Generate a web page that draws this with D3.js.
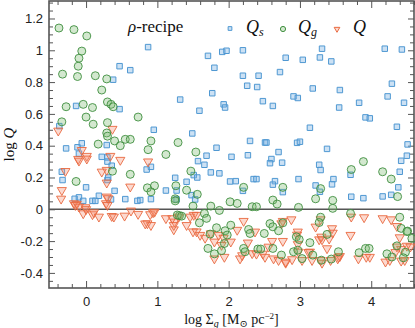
<!DOCTYPE html>
<html>
<head>
<meta charset="utf-8">
<script src="https://cdn.jsdelivr.net/npm/d3@7"></script>
<style>
  body { margin: 0; background: #fff; }
  svg { display: block; }
  .tick text { font-family: "Liberation Sans", Arial, sans-serif; font-size: 13px; fill: #222; }
  .serif { font-family: "Liberation Serif", "DejaVu Serif", serif; fill: #111; }
</style>
</head>
<body>
<svg id="chart"></svg>
<script>
// log Sigma_g vs log Q_s (stars)
const qsData = [
  [0.47,0.90],[0.62,0.875],[0.38,0.815],[-0.14,0.65],[0.47,0.63],
  [0.87,1.02],[1.71,0.965],[1.91,0.99],[1.97,0.997],[2.20,1.0],[1.80,0.89],[2.20,0.84],[2.42,0.84],
  [2.72,0.863],[2.26,0.777],[2.40,0.769],[1.77,0.73],[1.32,0.69],[2.48,0.68],[2.62,0.65],[1.93,0.66],
  [1.95,0.64],[1.59,0.62],[3.31,1.01],[4.19,1.01],[4.43,1.005],[2.80,0.953],[3.04,0.94],[3.28,0.955],
  [3.44,0.93],[4.29,0.79],[3.18,0.76],[3.56,0.75],[2.91,0.71],[2.97,0.70],[4.23,0.71],[3.83,0.67],
  [4.46,0.67],[3.55,0.64],[0.95,0.50],[1.49,0.477],[2.30,0.43],[2.51,0.42],[2.53,0.42],[1.83,0.387],
  [2.70,0.36],[1.69,0.337],[2.04,0.33],[2.27,0.34],[2.60,0.316],[1.57,0.303],[1.66,0.28],[2.58,0.29],
  [0.85,0.25],[0.91,0.267],[1.75,0.232],[1.87,0.226],[1.51,0.215],[1.56,0.20],[1.25,0.198],[1.41,0.173],
  [2.02,0.175],[2.10,0.177],[2.35,0.19],[2.39,0.19],[2.65,0.177],[2.62,0.155],[1.12,0.118],[1.27,0.118],
  [1.48,0.089],[2.20,0.116],[0.91,0.064],[1.27,0.062],[1.53,0.062],[0.76,0.058],
  [3.92,0.578],[3.98,0.572],[3.14,0.513],[4.36,0.519],[2.96,0.418],[3.0,0.425],[4.51,0.408],[3.38,0.38],
  [4.50,0.337],[4.42,0.305],[2.75,0.293],[3.27,0.28],[3.29,0.247],[4.40,0.236],[3.71,0.217],[2.98,0.19],
  [3.47,0.19],[3.22,0.15],[3.45,0.157],[4.38,0.138],[2.76,0.108],[3.28,0.11],[3.72,0.079],[3.89,0.07],
  [4.16,0.081],[4.28,0.091],
  [-0.375,0.523],[-0.28,0.383],[-0.12,0.39],[-0.06,0.415],[-0.10,0.35],[0.29,0.404],[0.22,0.33],
  [0.30,0.326],[0.30,0.30],[0.36,0.274],[-0.34,0.236],[-0.33,0.184],[0.31,0.2],[0.30,0.184],[0,0.138],
  [0.40,0.116],[-0.16,0.066],[-0.10,0.075],[0.09,0.053],[0.13,0.053],[0.35,0.062],[0.55,0.064],
  [0.72,0.053],[0.18,0.085],[-0.04,0.053]
];

// log Q_g (gas)
const qgData = [
  [-0.38,1.14],[-0.17,1.13],[0.01,1.09],[-0.06,0.995],[-0.10,0.95],[-0.11,0.90],[-0.33,0.85],[-0.12,0.835],
  [0.13,0.84],[0.29,0.82],[0.22,0.75],[-0.28,0.645],[-0.04,0.66],[0.09,0.64],[0.30,0.675],[0.35,0.66],
  [0.38,0.645],[-0.34,0.55],[0,0.58],[0.10,0.535],[0.30,0.545],[0.73,0.58],[0.29,0.48],[0.30,0.46],
  [0.40,0.43],[0.55,0.44],[0.48,0.40],[0.62,0.44],[0.17,0.41],[-0.14,0.175],[0.37,0.24],[0.62,0.22],
  [0.91,0.43],[1.29,0.42],[0.87,0.375],[1.12,0.345],[1.54,0.36],[1.47,0.24],[0.86,0.135],[0.96,0.148],
  [0.91,0.11],[1.26,0.148],[1.41,0.12],[1.56,0.094],[1.25,0.066],[1.50,0.02],[1.75,0.02],[2.02,0.047],
  [2.12,0.037],[2.21,0.138],[2.33,0.016],[2.39,0.016],[2.62,0.058],[2.68,0.033],
  [3.89,0.30],[3.72,0.25],[4.16,0.236],[4.28,0.19],[2.76,0.138],[3.29,0.13],[3.22,0.066],[3.46,0.056],
  [4.37,0.08],[2.98,0.012],[3.46,0.006],
  [1.87,-0.007],[1.31,-0.04],[1.66,-0.026],[1.69,-0.057],[1.59,-0.085],[1.83,-0.116],[2.03,-0.10],
  [1.95,-0.135],[1.74,-0.156],[1.98,-0.162],[2.28,-0.127],[2.30,-0.152],[2.50,-0.152],[2.58,-0.09],
  [2.62,-0.11],[2.70,-0.135],[2.76,-0.085],[2.95,-0.173],[1.94,-0.215],[1.71,-0.246],[1.80,-0.28],
  [1.90,-0.26],[2.21,-0.246],[2.23,-0.267],[2.41,-0.25],[2.45,-0.25],[2.62,-0.246],[2.74,-0.288],
  [2.91,-0.267],[3.71,-0.026],[3.29,-0.05],[3.27,-0.083],[4.40,-0.05],[4.42,-0.12],[4.51,-0.137],
  [4.57,-0.183],[2.99,-0.19],[3.38,-0.158],[3.14,-0.21],[4.36,-0.23],[4.48,-0.27],[2.97,-0.257],
  [3.03,-0.31],[3.18,-0.288],[3.30,-0.32],[3.44,-0.313],[3.54,-0.267],[3.83,-0.273],[3.92,-0.246],
  [3.97,-0.246],[4.22,-0.28],[4.29,-0.30],[4.45,-0.305],[1.25,0.053],[1.28,-0.036],[1.34,-0.043],
  [4.50,-0.14]
];

// log Q (combined)
const qData = [
  [-0.39,0.494],[0.37,0.505],[-0.06,0.372],[-0.11,0.316],[-0.10,0.305],[0.01,0.335],[0.01,0.318],
  [0.34,0.335],[0.48,0.31],[-0.29,0.24],[0.22,0.236],[0.29,0.247],[0.29,0.167],[0.62,0.142],[-0.34,0.12],
  [-0.35,0.066],[-0.13,0.033],[-0.01,0.012],[0.29,0.079],[0.31,0.069],[0.28,0.037],[0.87,0.30],
  [-0.17,0.037],[-0.15,0.026],[-0.10,0.016],[-0.04,-0.026],[0.0,0.0],[0.09,-0.032],[0.11,-0.02],
  [0.18,-0.047],[0.30,0.026],[0.36,-0.043],[0.39,-0.047],[0.54,-0.041],[0.63,-0.009],[0.73,-0.03],
  [0.86,-0.089],[0.91,-0.1],[0.90,-0.032],[0.96,-0.016],[1.12,-0.057],[1.24,-0.078],[1.23,-0.127],
  [1.30,-0.047],[1.46,-0.047],[1.51,-0.036],[1.55,-0.036],[1.41,-0.10],[1.50,-0.14],[1.55,-0.14],
  [1.60,-0.162],[1.67,-0.18],[1.75,-0.152],[1.80,-0.204],[1.86,-0.162],[1.93,-0.18],[2.12,-0.13],
  [2.21,-0.074],[2.37,-0.141],[2.03,-0.204],[1.90,-0.225],[1.94,-0.30],[1.80,-0.31],[2.27,-0.21],
  [2.33,-0.277],[2.39,-0.28],[2.19,-0.29],[2.16,-0.31],[2.48,-0.28],[2.51,-0.30],[2.56,-0.236],
  [2.61,-0.2],[2.76,-0.2],[2.76,-0.074],[2.63,-0.31],[2.70,-0.32],[2.80,-0.337],[2.96,-0.16],[2.97,-0.22],
  [2.97,-0.141],[3.22,-0.11],[3.29,-0.064],[3.27,-0.19],[3.30,-0.173],[3.45,-0.12],[3.46,-0.148],
  [3.38,-0.246],[3.72,-0.047],[3.90,-0.051],[3.71,-0.162],[4.16,-0.057],[4.28,-0.064],[4.36,-0.106],
  [4.40,-0.177],[4.36,-0.235],[4.34,-0.27],[4.42,-0.25],[4.50,-0.23],[4.55,-0.235],
  [2.98,-0.267],[3.03,-0.32],[3.14,-0.267],[3.17,-0.32],[3.29,-0.32],[3.31,-0.337],[3.43,-0.32],
  [3.54,-0.30],[3.82,-0.31],[3.93,-0.30],[3.98,-0.30],[4.20,-0.33],[4.26,-0.32],[4.42,-0.324],
  [4.47,-0.32],[2.88,-0.064],[2.74,-0.089],[2.80,-0.33],[2.89,-0.315],[3.41,-0.185],[3.31,-0.19],
  [3.12,-0.27],[3.56,-0.295],[3.53,-0.31],[0.94,-0.02],[0.83,-0.09],[1.21,-0.057],[1.23,-0.1]
];

const xTicks = [0, 1, 2, 3, 4];
const xTickLabels = ["0", "1", "2", "3", "4"];
const yTicks = [-0.4, -0.2, 0, 0.2, 0.4, 0.6, 0.8, 1, 1.2];
const yTickLabels = ["-0.4", "-0.2", "0", "0.2", "0.4", "0.6", "0.8", "1", "1.2"];

const width = 415, height = 328;
const margin = { top: 1, right: 1, bottom: 40, left: 49 };
const x0 = margin.left, x1 = width - margin.right;
const y0 = height - margin.bottom, y1 = margin.top;

const svg = d3.select("#chart").attr("width", width).attr("height", height);

const x = d3.scaleLinear().domain([-0.52, 4.6]).range([x0, x1]);
const y = d3.scaleLinear().domain([-0.495, 1.31]).range([y0, y1]);

const axisColor = "#555";
const xMinor = d3.range(-0.4, 4.61, 0.2).filter(v => Math.abs(v - Math.round(v)) > 1e-6);
const yMinor = d3.range(-0.45, 1.31, 0.05).filter(v => Math.abs(v * 5 - Math.round(v * 5)) > 1e-6);

function styleAxis(g) {
    g.select(".domain").remove();
    g.selectAll(".tick line").attr("stroke", axisColor).attr("stroke-width", 1);
}

// bottom
svg.append("g").attr("transform", `translate(0,${y0})`)
    .call(d3.axisBottom(x).tickValues(xTicks).tickFormat((d, i) => xTickLabels[i]).tickSize(-7).tickPadding(9))
    .call(styleAxis);
svg.append("g").attr("transform", `translate(0,${y0})`)
    .call(d3.axisBottom(x).tickValues(xMinor).tickFormat("").tickSize(-4))
    .call(styleAxis);
// top
svg.append("g").attr("transform", `translate(0,${y1})`)
    .call(d3.axisTop(x).tickValues(xTicks).tickFormat("").tickSize(-7))
    .call(styleAxis);
svg.append("g").attr("transform", `translate(0,${y1})`)
    .call(d3.axisTop(x).tickValues(xMinor).tickFormat("").tickSize(-4))
    .call(styleAxis);
// left
svg.append("g").attr("transform", `translate(${x0},0)`)
    .call(d3.axisLeft(y).tickValues(yTicks).tickFormat((d, i) => yTickLabels[i]).tickSize(-6).tickPadding(6))
    .call(styleAxis);
svg.append("g").attr("transform", `translate(${x0},0)`)
    .call(d3.axisLeft(y).tickValues(yMinor).tickFormat("").tickSize(-4))
    .call(styleAxis);
// right
svg.append("g").attr("transform", `translate(${x1},0)`)
    .call(d3.axisRight(y).tickValues(yTicks).tickFormat("").tickSize(-6))
    .call(styleAxis);
svg.append("g").attr("transform", `translate(${x1},0)`)
    .call(d3.axisRight(y).tickValues(yMinor).tickFormat("").tickSize(-4))
    .call(styleAxis);

// frame
svg.append("rect")
    .attr("x", x0).attr("y", y1)
    .attr("width", x1 - x0).attr("height", y0 - y1)
    .attr("fill", "none").attr("stroke", axisColor).attr("stroke-width", 1.6);

// zero line
svg.append("line")
    .attr("x1", x0).attr("x2", x1)
    .attr("y1", y(0)).attr("y2", y(0))
    .attr("stroke", "#555").attr("stroke-width", 1.6);

const blue = { stroke: "#4f98d2", fill: "rgba(120,175,225,0.38)" };
const green = { stroke: "#3f8f3f", fill: "rgba(120,185,110,0.33)" };
const red = { stroke: "#e9693f", fill: "rgba(245,140,110,0.33)" };

const plot = svg.append("g");

plot.selectAll(".qs").data(qsData).enter().append("path")
    .attr("class", "qs")
    .attr("d", d3.symbol(d3.symbolSquare, 30))
    .attr("transform", d => `translate(${x(d[0])},${y(d[1])})`)
    .attr("fill", blue.fill).attr("stroke", blue.stroke).attr("stroke-width", 1);

plot.selectAll(".q").data(qData).enter().append("path")
    .attr("class", "q")
    .attr("d", d3.symbol(d3.symbolTriangle, 36))
    .attr("transform", d => `translate(${x(d[0])},${y(d[1])}) rotate(180)`)
    .attr("fill", red.fill).attr("stroke", red.stroke).attr("stroke-width", 0.9);

plot.selectAll(".qg").data(qgData).enter().append("circle")
    .attr("class", "qg")
    .attr("cx", d => x(d[0])).attr("cy", d => y(d[1]))
    .attr("r", 4)
    .attr("fill", green.fill).attr("stroke", green.stroke).attr("stroke-width", 0.9);

// legend
const title = svg.append("text").attr("class", "serif")
    .attr("x", 128).attr("y", 32).attr("font-size", 17);
title.append("tspan").attr("font-style", "italic").text("ρ");
title.append("tspan").text("-recipe");

svg.append("path")
    .attr("d", d3.symbol(d3.symbolSquare, 14))
    .attr("transform", "translate(230,28.5)")
    .attr("fill", blue.fill).attr("stroke", blue.stroke).attr("stroke-width", 1);
svg.append("circle").attr("cx", 283).attr("cy", 29).attr("r", 2.6)
    .attr("fill", green.fill).attr("stroke", green.stroke).attr("stroke-width", 1);
svg.append("path")
    .attr("d", d3.symbol(d3.symbolTriangle, 14))
    .attr("transform", "translate(337,29) rotate(180)")
    .attr("fill", red.fill).attr("stroke", red.stroke).attr("stroke-width", 1);

function qLabel(xp, sub) {
    const t = svg.append("text").attr("class", "serif")
        .attr("x", xp).attr("y", 33).attr("font-size", 18).attr("font-style", "italic");
    t.append("tspan").text("Q");
    if (sub) t.append("tspan").attr("font-size", 12).attr("dy", 3).text(sub);
}
qLabel(246, "s");
qLabel(298, "g");
qLabel(353, null);

// axis labels
const xl = svg.append("text").attr("class", "serif")
    .attr("x", (x0 + x1) / 2).attr("y", 324).attr("text-anchor", "middle").attr("font-size", 14);
xl.append("tspan").text("log Σ");
xl.append("tspan").attr("font-size", 10).attr("font-style", "italic").attr("dy", 3).text("g");
xl.append("tspan").attr("dy", -3).text(" [M");
xl.append("tspan").attr("font-size", 10).attr("dy", 3).text("⊙");
xl.append("tspan").attr("dy", -3).text(" pc");
xl.append("tspan").attr("font-size", 9).attr("dy", -5).text("−2");
xl.append("tspan").attr("dy", 5).text("]");

const yl = svg.append("text").attr("class", "serif")
    .attr("transform", `translate(14,${(y0 + y1) / 2}) rotate(-90)`)
    .attr("text-anchor", "middle").attr("font-size", 15);
yl.append("tspan").text("log ");
yl.append("tspan").attr("font-style", "italic").text("Q");
</script>
</body>
</html>
